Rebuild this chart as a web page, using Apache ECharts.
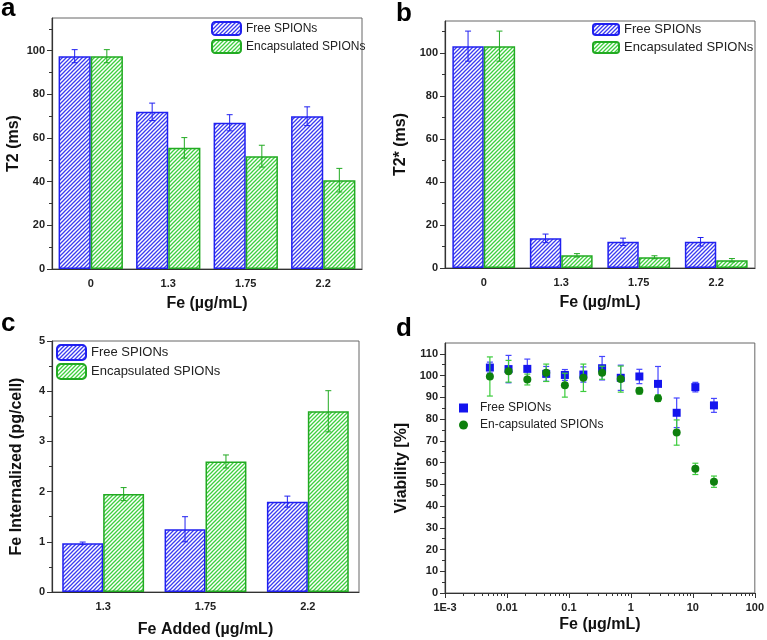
<!DOCTYPE html>
<html><head><meta charset="utf-8">
<script src="https://cdn.jsdelivr.net/npm/echarts@6/dist/echarts.min.js"></script>
<style>html,body{margin:0;padding:0;background:#fff}#c{width:767px;height:640px}</style>
</head><body><div id="c"></div>
<script>
// ---------- data ----------
const catsAB = ['0', '1.3', '1.75', '2.2'];
const t2Free = [97.5, 72, 67, 70];
const t2FreeErr = [3, 4, 3.7, 4.3];
const t2Enc = [97.5, 55.5, 51.7, 40.7];
const t2EncErr = [3, 4.7, 5, 5.4];

const t2sFree = [103.3, 13.8, 12.2, 12.2];
const t2sFreeErr = [7, 2, 1.7, 2];
const t2sEnc = [103.3, 5.9, 5, 3.6];
const t2sEncErr = [7, 0.8, 0.7, 0.8];

const catsC = ['1.3', '1.75', '2.2'];
const feFree = [0.97, 1.25, 1.8];
const feFreeErr = [0.025, 0.25, 0.11];
const feEnc = [1.95, 2.6, 3.6];
const feEncErr = [0.13, 0.13, 0.41];

const dX = [0.0053, 0.0106, 0.0213, 0.043, 0.086, 0.171, 0.343, 0.686, 1.37, 2.74, 5.48, 10.97, 21.9];
const vFree = [103.7, 103, 103.1, 100.8, 100.3, 100.5, 103.4, 99, 99.6, 96.2, 82.9, 94.7, 86.3];
const vFreeErr = [2.5, 6.3, 4.5, 3.4, 2.5, 3.5, 5.4, 5.8, 3.3, 8, 6.8, 2.2, 3.2];
const vEnc = [99.6, 102, 98.2, 101.3, 95.6, 99, 101.3, 98.4, 93, 89.6, 73.8, 57.1, 51.2];
const vEncErr = [9, 5, 2.5, 4, 5.5, 6.3, 3, 6, 1.5, 1.5, 5.8, 2.6, 2.6];

const ticksT = [0, 20, 40, 60, 80, 100];
const minorT = [10, 30, 50, 70, 90, 110];
const ticksC = [0, 1, 2, 3, 4, 5];
const minorC = [0.5, 1.5, 2.5, 3.5, 4.5];
const ticksV = [0, 10, 20, 30, 40, 50, 60, 70, 80, 90, 100, 110];
const minorV = [5, 15, 25, 35, 45, 55, 65, 75, 85, 95, 105];
const logLabels = {'-3': '1E-3', '-2': '0.01', '-1': '0.1', '0': '1', '1': '10', '2': '100'};

// ---------- styles ----------
const FONT = '"Liberation Sans", Arial, sans-serif';
const BLUE = '#2020f0', GREEN = '#22aa22';
function hatch(color) {
  const c = document.createElement('canvas'); c.width = 4; c.height = 4;
  const g = c.getContext('2d');
  g.fillStyle = '#fff'; g.fillRect(0, 0, 4, 4);
  g.strokeStyle = color; g.lineWidth = 1.3;
  g.beginPath();
  g.moveTo(0, 4); g.lineTo(4, 0);
  g.moveTo(-1, 1); g.lineTo(1, -1);
  g.moveTo(3, 5); g.lineTo(5, 3);
  g.stroke();
  return c;
}
const blueFill = {image: hatch('#3b3bf0'), repeat: 'repeat'};
const greenFill = {image: hatch('#3fcf3f'), repeat: 'repeat'};

const grids = [
  {left: 52, top: 18, width: 310, height: 251},
  {left: 445, top: 21, width: 310, height: 247},
  {left: 52, top: 341, width: 307, height: 251},
  {left: 445, top: 343, width: 311, height: 250}
].map(g => Object.assign({show: true, borderColor: '#666', borderWidth: 1, backgroundColor: 'transparent'}, g));

const axLine = {show: true, lineStyle: {color: '#333', width: 1.2}};
const tickStyle = {lineStyle: {color: '#333', width: 1}};
const lab = {fontFamily: FONT, fontWeight: 'bold', fontSize: 11, color: '#222'};
const nameStyle = {fontFamily: FONT, fontWeight: 'bold', fontSize: 16, color: '#111'};

const xAxis = [], yAxis = [], series = [];

function catAxes(gi, cats, title) {
  xAxis.push({type: 'category', gridIndex: gi, data: cats, position: 'bottom',
    axisLine: axLine, axisTick: Object.assign({alignWithLabel: true, length: 5}, tickStyle),
    axisLabel: Object.assign({margin: 9}, lab),
    name: title, nameLocation: 'middle', nameGap: 27, nameTextStyle: nameStyle});
  xAxis.push({type: 'category', gridIndex: gi, data: cats, position: 'bottom',
    axisLine: {show: false}, axisLabel: {show: false},
    axisTick: Object.assign({alignWithLabel: false, length: 3}, tickStyle)});
}
function valAxes(gi, max, ticks, minors, title, gap) {
  yAxis.push({type: 'value', gridIndex: gi, min: 0, max: max, position: 'left',
    axisLine: axLine, splitLine: {show: false},
    axisTick: Object.assign({show: true, length: 5, customValues: ticks}, tickStyle),
    axisLabel: Object.assign({margin: 7, customValues: ticks}, lab),
    name: title, nameLocation: 'middle', nameGap: gap, nameTextStyle: nameStyle});
  yAxis.push({type: 'value', gridIndex: gi, min: 0, max: max, position: 'left',
    axisLine: {show: false}, splitLine: {show: false}, axisLabel: {show: false},
    axisTick: Object.assign({show: true, length: 3, customValues: minors}, tickStyle)});
}

function errBar(idx, gapFrac, color) {
  return function (params, api) {
    const c = api.value(0);
    const lo = api.coord([c, api.value(1)]);
    const hi = api.coord([c, api.value(2)]);
    const bandW = api.size([1, 0])[0];
    const bw = bandW * (1 - gapFrac) / 2;
    const x = lo[0] - bw + bw * idx + bw / 2;
    const cap = 3;
    const st = {stroke: color, lineWidth: 1};
    return {type: 'group', children: [
      {type: 'line', shape: {x1: x, y1: lo[1], x2: x, y2: hi[1]}, style: st},
      {type: 'line', shape: {x1: x - cap, y1: lo[1], x2: x + cap, y2: lo[1]}, style: st},
      {type: 'line', shape: {x1: x - cap, y1: hi[1], x2: x + cap, y2: hi[1]}, style: st}
    ]};
  };
}

function barSeries(gi, free, freeErr, enc, encErr, gapFrac) {
  const ax = {xAxisIndex: 2 * gi, yAxisIndex: 2 * gi};
  const gap = (gapFrac * 100) + '%';
  series.push(Object.assign({type: 'bar', name: 'Free SPIONs', data: free, barGap: '0%', barCategoryGap: gap,
    itemStyle: {color: blueFill, borderColor: BLUE, borderWidth: 1.5}, silent: true}, ax));
  series.push(Object.assign({type: 'bar', name: 'Encapsulated SPIONs', data: enc, barGap: '0%', barCategoryGap: gap,
    itemStyle: {color: greenFill, borderColor: GREEN, borderWidth: 1.5}, silent: true}, ax));
  series.push(Object.assign({type: 'custom', name: 'Free SPIONs', encode: {x: 0, y: [1, 2]}, z: 5, silent: true,
    data: free.map((v, i) => [i, v - freeErr[i], v + freeErr[i]]), renderItem: errBar(0, gapFrac, BLUE)}, ax));
  series.push(Object.assign({type: 'custom', name: 'Encapsulated SPIONs', encode: {x: 0, y: [1, 2]}, z: 5, silent: true,
    data: enc.map((v, i) => [i, v - encErr[i], v + encErr[i]]), renderItem: errBar(1, gapFrac, GREEN)}, ax));
}

// panel a
catAxes(0, catsAB, 'Fe (µg/mL)');
valAxes(0, 115, ticksT, minorT, 'T2 (ms)', 30);
barSeries(0, t2Free, t2FreeErr, t2Enc, t2EncErr, 0.17);
// panel b
catAxes(1, catsAB, 'Fe (µg/mL)');
valAxes(1, 115, ticksT, minorT, 'T2* (ms)', 36);
barSeries(1, t2sFree, t2sFreeErr, t2sEnc, t2sEncErr, 0.19);
// panel c
catAxes(2, catsC, 'Fe Added (µg/mL)');
valAxes(2, 5, ticksC, minorC, 'Fe Internalized (pg/cell)', 27);
barSeries(2, feFree, feFreeErr, feEnc, feEncErr, 0.2);
xAxis[4].nameGap = 30;

// panel d
const logMinor = [];
for (let k = -3; k <= 1; k++) for (let m = 2; m <= 9; m++) logMinor.push(m * Math.pow(10, k));
xAxis.push({type: 'log', logBase: 10, gridIndex: 3, min: 0.001, max: 100, position: 'bottom',
  axisLine: axLine, splitLine: {show: false},
  axisTick: Object.assign({length: 5}, tickStyle),
  axisLabel: Object.assign({margin: 9, formatter: v => logLabels[String(Math.round(Math.log10(v)))] || ''}, lab),
  name: 'Fe (µg/mL)', nameLocation: 'middle', nameGap: 24, nameTextStyle: nameStyle});
xAxis.push({type: 'log', logBase: 10, gridIndex: 3, min: 0.001, max: 100, position: 'bottom',
  axisLine: {show: false}, splitLine: {show: false}, axisLabel: {show: false},
  axisTick: Object.assign({length: 3, customValues: logMinor}, tickStyle)});
valAxes(3, 115, ticksV, minorV, 'Viability [%]', 35);

function errPts(color) {
  return function (params, api) {
    const lo = api.coord([api.value(0), api.value(1)]);
    const hi = api.coord([api.value(0), api.value(2)]);
    const st = {stroke: color, lineWidth: 1.2};
    const cap = 3;
    return {type: 'group', children: [
      {type: 'line', shape: {x1: lo[0], y1: lo[1], x2: lo[0], y2: hi[1]}, style: st},
      {type: 'line', shape: {x1: lo[0] - cap, y1: lo[1], x2: lo[0] + cap, y2: lo[1]}, style: st},
      {type: 'line', shape: {x1: lo[0] - cap, y1: hi[1], x2: lo[0] + cap, y2: hi[1]}, style: st}
    ]};
  };
}
const dAx = {xAxisIndex: 6, yAxisIndex: 6};
series.push(Object.assign({type: 'scatter', name: 'd:Free SPIONs', symbol: 'rect', symbolSize: 8, silent: true,
  itemStyle: {color: '#1414ee', opacity: 1}, data: dX.map((x, i) => [x, vFree[i]]), z: 4}, dAx));
series.push(Object.assign({type: 'scatter', name: 'd:En-capsulated SPIONs', symbol: 'circle', symbolSize: 8, silent: true,
  itemStyle: {color: '#0e800e', opacity: 1}, data: dX.map((x, i) => [x, vEnc[i]]), z: 6}, dAx));
series.push(Object.assign({type: 'custom', name: 'd:Free SPIONs', silent: true, encode: {x: 0, y: [1, 2]},
  data: dX.map((x, i) => [x, vFree[i] - vFreeErr[i], vFree[i] + vFreeErr[i]]), renderItem: errPts('#4545ff'), z: 3}, dAx));
series.push(Object.assign({type: 'custom', name: 'd:En-capsulated SPIONs', silent: true, encode: {x: 0, y: [1, 2]},
  data: dX.map((x, i) => [x, vEnc[i] - vEncErr[i], vEnc[i] + vEncErr[i]]), renderItem: errPts('#3ccc3c'), z: 5}, dAx));

const legTxt = (fs) => ({fontFamily: FONT, fontSize: fs, color: '#222'});
const legend = [
  {left: 211, top: 21, orient: 'vertical', itemWidth: 29, itemHeight: 13, itemGap: 3, padding: 0, selectedMode: false,
    data: ['Free SPIONs', 'Encapsulated SPIONs'], textStyle: legTxt(12)},
  {left: 592, top: 23, orient: 'vertical', itemWidth: 26, itemHeight: 11, itemGap: 5, padding: 0, selectedMode: false,
    data: ['Free SPIONs', 'Encapsulated SPIONs'], textStyle: legTxt(13)},
  {left: 56, top: 344, orient: 'vertical', itemWidth: 29, itemHeight: 15, itemGap: 2, padding: 0, selectedMode: false,
    data: ['Free SPIONs', 'Encapsulated SPIONs'], textStyle: legTxt(13)},
  {left: 459, top: 402, orient: 'vertical', itemWidth: 9, itemHeight: 9, itemGap: 5, padding: 0, selectedMode: false,
    data: ['d:Free SPIONs', 'd:En-capsulated SPIONs'], formatter: n => n.slice(2),
    textStyle: Object.assign(legTxt(12), {padding: [0, 0, 0, 7]})}
];

// panel letters: [text, left, top]
const letters = [['a', 1, -4], ['b', 396, 1], ['c', 1, 311], ['d', 396, 316]];
const graphic = letters.map(([t, x, y]) => ({type: 'text', left: x, top: y, silent: true,
  style: {text: t, font: 'bold 26px ' + FONT, fill: '#000'}}));

const chart = echarts.init(document.getElementById('c'), null, {renderer: 'canvas'});
chart.setOption({backgroundColor: '#fff', animation: false, grid: grids, xAxis, yAxis, series, legend, graphic});
</script></body></html>
